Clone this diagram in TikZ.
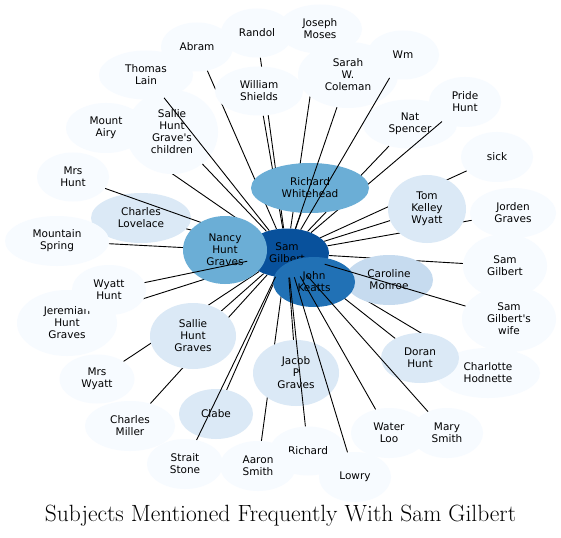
\documentclass[tikz,border=0pt]{standalone}
\usepackage{fontspec}
\usetikzlibrary{shapes.geometric}
\newfontfamily\lblfamily{DejaVu Sans}
\newcommand\nodefnt{\lblfamily\fontsize{10.5}{12}\selectfont}
\definecolor{leafc}{HTML}{F7FBFF}
\definecolor{midc}{HTML}{DBE9F6}
\definecolor{cmc}{HTML}{C6DBEF}
\definecolor{rwc}{HTML}{6BAED6}
\definecolor{jkc}{HTML}{2171B5}
\definecolor{samc}{HTML}{08519C}
\pgfdeclarelayer{bg}
\pgfdeclarelayer{lownodes}
\pgfdeclarelayer{edges}
\pgfdeclarelayer{topedges}
\pgfsetlayers{bg,lownodes,edges,main,topedges}
\tikzset{
  nd/.style={ellipse, inner sep=0pt, align=center, font=\nodefnt, text=black},
  leafn/.style={nd, fill=leafc},
  midn/.style={nd, fill=midc},
  edge/.style={draw=black, line width=0.9pt},
  sz/.style 2 args={minimum width=#1pt, minimum height=#2pt}
}
\begin{document}
\begin{tikzpicture}[x=1pt,y=-1pt]
\begin{pgfonlayer}{bg}
\fill[white] (0,0) rectangle (561,537);
\end{pgfonlayer}
\useasboundingbox (0,0) rectangle (561,537);

% low nodes (under the connectors)
\begin{pgfonlayer}{lownodes}
\node[leafn, sz={94}{49}] (nat) at (410,124) {Nat\\Spencer};
\node[midn, sz={100}{50}] (clovelace) at (141,218) {Charles\\Lovelace};
\end{pgfonlayer}

% leaves
\node[leafn, sz={94}{49}] (thomas) at (146,75) {Thomas\\Lain};
\node[leafn, sz={72}{49}] (abram) at (197,47) {Abram};
\node[leafn, sz={84}{49}] (joseph) at (320,29) {Joseph\\Moses};
\node[leafn, sz={72}{49}] (randol) at (257,33) {Randol};
\node[leafn, sz={88}{49}] (wshields) at (259,91) {William\\Shields};
\node[leafn, sz={100}{66}] (sarah) at (348,75) {Sarah\\W.\\Coleman};
\node[leafn, sz={72}{49}] (wm) at (403,55) {Wm};
\node[leafn, sz={72}{50}] (pride) at (465,102) {Pride\\Hunt};
\node[leafn, sz={72}{50}] (sick) at (497,157) {sick};
\node[leafn, sz={80}{50}] (mtairy) at (106,128) {Mount\\Airy};
\node[leafn, sz={92}{84}] (shgc) at (172,132) {Sallie\\Hunt\\Grave's\\children};
\node[leafn, sz={72}{49}] (mrshunt) at (73,177) {Mrs\\Hunt};
\node[leafn, sz={86}{50}] (jorden) at (513,213) {Jorden\\Graves};
\node[leafn, sz={104}{50}] (mtspring) at (57,241) {Mountain\\Spring};
\node[leafn, sz={84}{64}] (samleaf) at (505,266) {Sam\\Gilbert};
\node[leafn, sz={94}{66}] (wife) at (509,319) {Sam\\Gilbert's\\wife};
\node[leafn, sz={100}{66}] (jeremiah) at (67,323) {Jeremiah\\Hunt\\Graves};
\node[leafn, sz={74}{50}] (wyatthunt) at (109,290) {Wyatt\\Hunt};
\node[leafn, sz={104}{50}] (charlotte) at (488,373) {Charlotte\\Hodnette};
\node[leafn, sz={75}{49}] (mrswyatt) at (97,379) {Mrs\\Wyatt};
\node[leafn, sz={90}{50}] (cmiller) at (130,426) {Charles\\Miller};
\node[leafn, sz={76}{50}] (waterloo) at (389,433) {Water\\Loo};
\node[leafn, sz={72}{50}] (marysmith) at (447,433) {Mary\\Smith};
\node[leafn, sz={76}{49}] (richard) at (308,451) {Richard};
\node[leafn, sz={76}{50}] (straitstone) at (185,464) {Strait\\Stone};
\node[leafn, sz={76}{50}] (aaron) at (258,466) {Aaron\\Smith};
\node[leafn, sz={72}{50}] (lowry) at (355,477) {Lowry};

% medium nodes
\node[midn, sz={78}{68}] (tkw) at (427,209) {Tom\\Kelley\\Wyatt};
\node[midn, sz={86}{66}] (shg) at (193,336) {Sallie\\Hunt\\Graves};
\node[midn, sz={86}{66}] (jacob) at (296,373) {Jacob\\P\\Graves};
\node[midn, sz={74}{50}] (clabe) at (216,414) {Clabe};
\node[midn, sz={78}{50}] (doran) at (420,358) {Doran\\Hunt};
\node[nd, fill=cmc, sz={88}{50}] (cm) at (389,280) {Caroline\\Monroe};
\node[nd, fill=rwc, sz={118}{50}] (rw) at (310,188) {Richard\\Whitehead};

% hubs
\node[nd, fill=samc, sz={84}{49}] (sam) at (287,253) {Sam\\Gilbert};
\node[nd, fill=rwc, sz={84}{68}] (nancy) at (225,250) {Nancy\\Hunt\\Graves};
\node[nd, fill=jkc, sz={82}{50}] (jk) at (314,282) {John\\Keatts};

% connectors under the nodes
\begin{pgfonlayer}{edges}
\foreach \t in {abram,randol,wshields,joseph,nat,pride,sick,tkw,jorden,samleaf,
  charlotte,doran,cm,jk,rw,nancy,shgc,mtairy,mrshunt,clovelace,mtspring,
  jeremiah,mrswyatt,cmiller,shg,clabe,aaron}
  \draw[edge] (sam) -- (\t);
\end{pgfonlayer}

% connectors over the nodes
\begin{pgfonlayer}{topedges}
\foreach \t in {thomas,sarah,wm,wyatthunt,wife,richard,lowry,waterloo,marysmith,
  jacob,straitstone}
  \draw[edge] (sam) -- (\t);
\end{pgfonlayer}

\node[font=\fontsize{23.5}{28}\selectfont] (title) at (280.5,516) {Subjects Mentioned Frequently With Sam Gilbert};
\end{tikzpicture}
\end{document}
